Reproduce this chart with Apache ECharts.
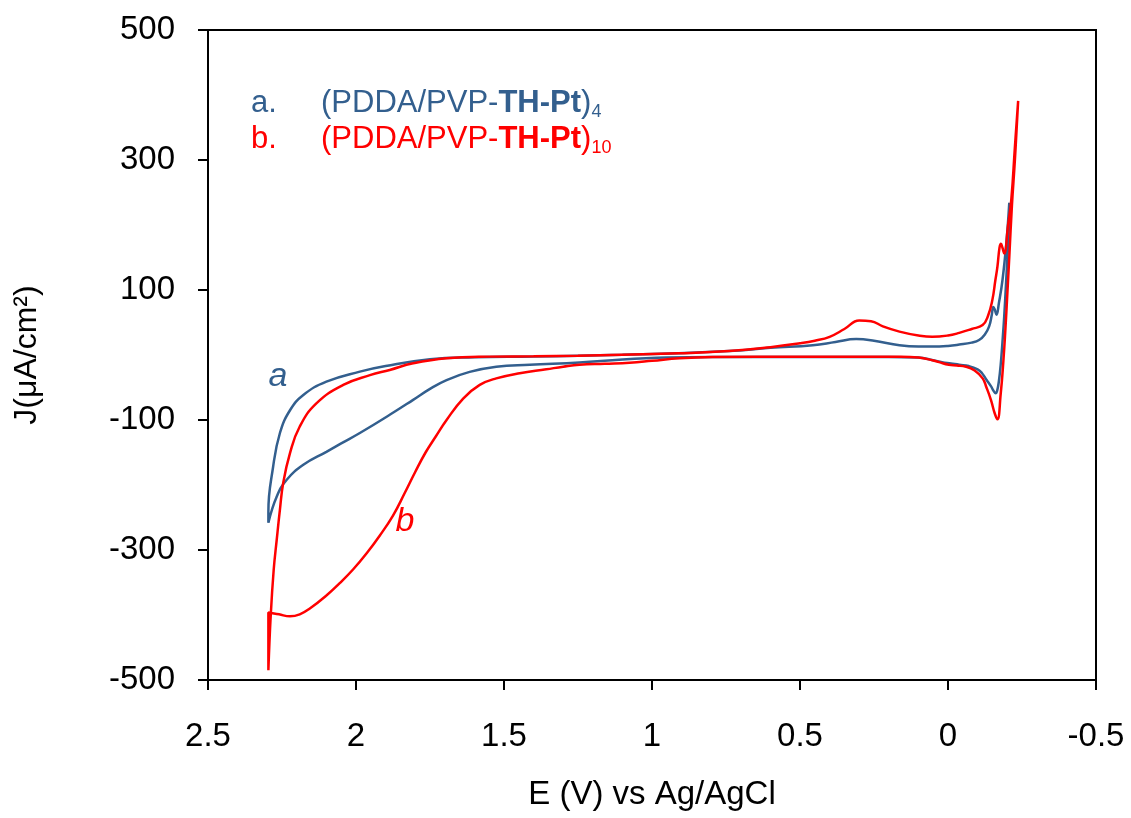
<!DOCTYPE html>
<html>
<head>
<meta charset="utf-8">
<script src="https://cdn.jsdelivr.net/npm/echarts@6/dist/echarts.min.js"></script>
<style>
  html, body { margin: 0; background: #fff; }
  #main { width: 1131px; height: 818px; }
</style>
</head>
<body>
<div id="main"></div>
<script>
// curve a: (PDDA/PVP-TH-Pt)4, scan starts at the H-evolution end (top right)
var aE = [-0.209, -0.203, -0.196, -0.19, -0.184, -0.178, -0.172, -0.166, -0.161, -0.155, -0.145, -0.13, -0.115, -0.1, -0.07, -0.038, -0.01, 0.02, 0.05, 0.1, 0.2, 0.5, 0.8, 0.95, 1.1, 1.245, 1.413, 1.526, 1.616, 1.694, 1.75, 1.807, 1.886, 1.987, 2.05, 2.1, 2.178, 2.234, 2.268, 2.296,
          2.296, 2.28, 2.257, 2.223, 2.178, 2.1, 1.987, 1.9, 1.75, 1.6, 1.4, 1.25, 1.1, 0.91, 0.74, 0.6, 0.457, 0.38, 0.31, 0.25, 0.164, 0.1, 0.053, 0.0, -0.038, -0.08, -0.105, -0.125, -0.139, -0.148, -0.153, -0.158, -0.164, -0.172, -0.184, -0.198, -0.207];
var aJ = [234, 170, 110, 60, 20, -15, -40, -55, -59, -56, -48, -38, -28, -22, -17, -15, -13, -11, -8, -4, -3, -3, -3, -4, -7, -11.5, -15, -18, -26, -38.5, -52, -69, -92, -120, -136, -149, -169, -192, -218, -258,
          -241, -172, -120, -85, -61.5, -41, -25.6, -17, -6.6, -3.6, -2.5, -1, 0.5, 2.6, 6, 11, 15, 20, 24.5, 22, 15, 13, 13, 14, 16, 19, 23, 32, 44, 62, 74, 70, 62, 80, 115, 177, 234];

// curve b: (PDDA/PVP-TH-Pt)10
var bE = [-0.237, -0.226, -0.216, -0.207, -0.2, -0.194, -0.187, -0.178, -0.167, -0.158, -0.145, -0.13, -0.117, -0.09, -0.061, -0.03, -0.003, 0.03, 0.053, 0.1, 0.16, 0.3, 0.5, 0.795, 0.907, 1.0, 1.076, 1.16, 1.245, 1.3, 1.357, 1.447, 1.526, 1.582, 1.638, 1.694, 1.73, 1.765, 1.8, 1.835, 1.875, 1.92, 1.964, 2.01, 2.055, 2.1, 2.156, 2.19, 2.223, 2.26, 2.296,
          2.296, 2.288, 2.278, 2.268, 2.257, 2.246, 2.223, 2.19, 2.133, 2.043, 1.953, 1.886, 1.807, 1.694, 1.55, 1.4, 1.25, 1.1, 0.91, 0.74, 0.6, 0.5, 0.45, 0.4, 0.35, 0.3, 0.26, 0.22, 0.164, 0.1, 0.053, 0.0, -0.038, -0.08, -0.117, -0.135, -0.15, -0.16, -0.167, -0.174, -0.179, -0.184, -0.19, -0.203, -0.214, -0.226, -0.237];
var bJ = [391, 300, 230, 150, 90, 40, -10, -60, -99, -90, -69, -50, -36, -24, -18, -16, -15, -11, -8, -4, -2.6, -2.5, -2.5, -3, -5, -9, -12, -13.5, -15, -18, -22, -28, -36, -46, -67, -100, -125, -150, -180, -212, -247, -278, -305, -330, -351, -370, -390, -399, -402, -399, -396,
          -485, -400, -330, -285, -238, -197, -151, -110, -74, -46, -31, -23, -12.8, -5, -2.5, -2, -1, 0.5, 2.6, 6, 12, 18, 22, 28, 40, 53, 52, 44, 36, 30, 28, 30, 34, 40, 46, 60, 85, 115, 136, 165, 171, 165, 156, 200, 240, 320, 391];

var legendTags = ['a.', 'b.'];
var legendSubs = ['4', '10'];

var BLUE = '#335f8e';
var RED = '#ff0000';
var FONT = "'Liberation Sans', Arial, sans-serif";

function pairs(xs, ys) {
  return xs.map(function (x, i) { return [x, ys[i]]; });
}

function legendRich(color, sub) {
  return {
    text: '{n|(PDDA/PVP-}{b|TH-Pt}{n|)}{s|' + sub + '}',
    fill: color,
    align: 'left',
    verticalAlign: 'middle',
    rich: {
      n: { fontSize: 31, fontFamily: FONT, lineHeight: 36, verticalAlign: 'middle', fill: color },
      b: { fontSize: 31, fontFamily: FONT, fontWeight: 'bold', lineHeight: 36, verticalAlign: 'middle', fill: color },
      s: { fontSize: 18, fontFamily: FONT, lineHeight: 14, verticalAlign: 'bottom', fill: color }
    }
  };
}

var chart = echarts.init(document.getElementById('main'));

chart.setOption({
  backgroundColor: '#fff',
  animation: false,
  grid: {
    left: 208, right: 35, top: 30, bottom: 138,
    show: true, borderColor: '#000', borderWidth: 2
  },
  xAxis: {
    type: 'value',
    inverse: true,
    min: -0.5, max: 2.5, interval: 0.5,
    name: 'E (V) vs Ag/AgCl',
    nameLocation: 'middle',
    nameGap: 98,
    nameTextStyle: { fontSize: 33, fontFamily: FONT, color: '#000' },
    axisLine: { onZero: false, lineStyle: { color: '#000', width: 2 } },
    axisTick: { inside: false, length: 10, lineStyle: { color: '#000', width: 2 } },
    axisLabel: { fontSize: 33, fontFamily: FONT, color: '#000', margin: 40 },
    splitLine: { show: false }
  },
  yAxis: {
    type: 'value',
    min: -500, max: 500, interval: 200,
    name: 'J(μA/cm²)',
    nameLocation: 'middle',
    nameRotate: 90,
    nameGap: 165,
    nameTextStyle: { fontSize: 32, fontFamily: FONT, color: '#000' },
    axisLine: { onZero: false, lineStyle: { color: '#000', width: 2 } },
    axisTick: { inside: false, length: 10, lineStyle: { color: '#000', width: 2 } },
    axisLabel: { fontSize: 33, fontFamily: FONT, color: '#000', margin: 33 },
    splitLine: { show: false }
  },
  series: [
    {
      name: 'a', type: 'line', data: pairs(aE, aJ),
      showSymbol: false, smooth: 0.45,
      lineStyle: { color: BLUE, width: 2.5 }, itemStyle: { color: BLUE }
    },
    {
      name: 'b', type: 'line', data: pairs(bE, bJ),
      showSymbol: false, smooth: 0.45,
      lineStyle: { color: RED, width: 2.5 }, itemStyle: { color: RED }
    }
  ],
  graphic: [
    { type: 'text', x: 251, y: 103, style: { text: legendTags[0], fill: BLUE, font: '31px ' + FONT, verticalAlign: 'middle' } },
    { type: 'text', x: 321, y: 103, style: legendRich(BLUE, legendSubs[0]) },
    { type: 'text', x: 251, y: 139, style: { text: legendTags[1], fill: RED, font: '31px ' + FONT, verticalAlign: 'middle' } },
    { type: 'text', x: 321, y: 139, style: legendRich(RED, legendSubs[1]) },
    { type: 'text', x: 278, y: 377, style: { text: 'a', fill: BLUE, font: 'italic 34px ' + FONT, align: 'center', verticalAlign: 'middle' } },
    { type: 'text', x: 405, y: 522, style: { text: 'b', fill: RED, font: 'italic 34px ' + FONT, align: 'center', verticalAlign: 'middle' } }
  ]
});
</script>
</body>
</html>
